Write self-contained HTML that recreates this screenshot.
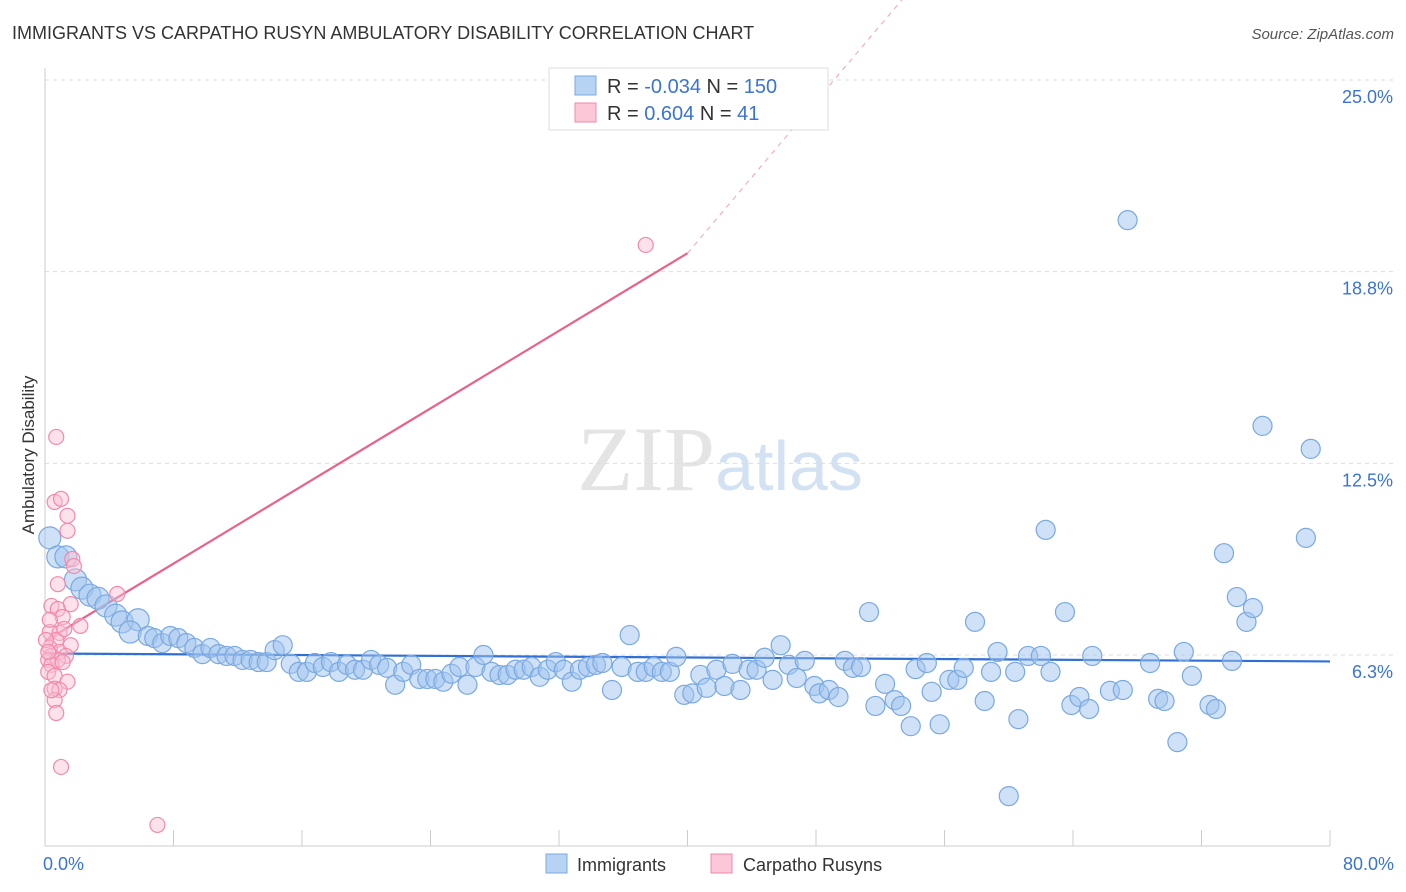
<!DOCTYPE html>
<html><head><meta charset="utf-8"><style>
body{margin:0;background:#fff;font-family:"Liberation Sans",sans-serif;}
svg{display:block}
</style></head><body>
<svg id="chart" width="1406" height="892" xmlns="http://www.w3.org/2000/svg">
<text x="12" y="39" font-size="18" fill="#333">IMMIGRANTS VS CARPATHO RUSYN AMBULATORY DISABILITY CORRELATION CHART</text>
<text x="1394" y="39" font-size="15" fill="#555" text-anchor="end" font-style="italic">Source: ZipAtlas.com</text>
<text x="720" y="490" font-size="92" fill="#e4e4e4" text-anchor="middle" font-family="Liberation Serif,serif">ZIP<tspan fill="#d3e2f3" font-family="Liberation Sans,sans-serif" font-size="70">atlas</tspan></text>
<g id="grid"></g>
<g id="axes"></g>
<g id="trend"></g>
<g id="pts"></g>
<text transform="translate(34,455) rotate(-90)" font-size="17" fill="#333" text-anchor="middle">Ambulatory Disability</text>
<g>
<rect x="549" y="68" width="279" height="62" fill="#fff" stroke="#ddd"/>
<rect x="575" y="76" width="21" height="19" fill="#b7d3f3" stroke="#7aa9e0"/>
<rect x="575" y="103" width="21" height="19" fill="#fcc7d6" stroke="#f08aab"/>
<text x="607" y="93" font-size="20" fill="#333">R = <tspan fill="#3b74d0">-0.034</tspan>   N = <tspan fill="#3b74d0">150</tspan></text>
<text x="607" y="120" font-size="20" fill="#333">R =   <tspan fill="#3b74d0">0.604</tspan>   N =    <tspan fill="#3b74d0">41</tspan></text>
</g>
<g>
<rect x="546" y="854" width="21" height="19" fill="#b7d3f3" stroke="#7aa9e0"/>
<text x="577" y="871" font-size="18" fill="#333">Immigrants</text>
<rect x="711" y="854" width="21" height="19" fill="#fcc7d6" stroke="#f08aab"/>
<text x="743" y="871" font-size="18" fill="#333">Carpatho Rusyns</text>
</g>
</svg>
<script>
const yTicks=[6.25,12.5,18.75,25];
const yTickLabels=["6.3%","12.5%","18.8%","25.0%"];
const xTickLabels=["0.0%","80.0%"];
const blueX=[0.3,0.8,1.3,1.9,2.3,2.8,3.3,3.8,4.4,4.8,5.8,5.3,6.4,6.8,7.3,7.8,8.3,8.8,9.3,9.8,10.3,10.8,11.3,11.8,12.3,12.8,13.3,13.8,14.3,14.8,15.3,15.8,16.3,16.8,17.3,17.8,18.3,18.8,19.3,19.8,20.3,20.8,21.3,21.8,22.3,22.8,23.3,23.8,24.3,24.8,25.3,25.8,26.3,26.8,27.3,27.8,28.3,28.8,29.3,29.8,30.3,30.8,31.3,31.8,32.3,32.8,33.3,33.8,34.3,34.7,35.3,35.9,36.4,36.9,37.4,37.9,38.4,38.9,39.3,39.8,40.3,40.8,41.2,41.8,42.3,42.8,43.3,43.8,44.3,44.8,45.3,45.8,46.3,46.8,47.3,47.9,48.2,48.8,49.4,49.8,50.3,50.8,51.3,51.7,52.3,52.9,53.3,53.9,54.2,54.9,55.2,55.7,56.3,56.8,57.2,57.9,58.5,58.9,59.3,60.0,60.4,60.6,61.2,62.0,62.3,62.6,63.5,63.9,64.4,65.0,65.2,66.3,67.1,67.4,68.8,69.3,69.7,70.5,70.9,71.4,72.5,72.9,73.4,73.9,74.2,74.8,75.2,75.8,78.5,78.8];
const blueY=[10.07,9.45,9.45,8.7,8.43,8.2,8.1,7.85,7.55,7.33,7.4,7.0,6.87,6.8,6.64,6.87,6.8,6.64,6.48,6.28,6.48,6.28,6.22,6.22,6.09,6.09,6.02,6.02,6.41,6.57,5.96,5.7,5.7,5.99,5.86,6.02,5.7,5.93,5.77,5.77,6.09,5.93,5.83,5.28,5.7,5.93,5.47,5.47,5.47,5.38,5.64,5.86,5.28,5.86,6.25,5.7,5.6,5.6,5.77,5.77,5.86,5.54,5.77,6.02,5.77,5.38,5.77,5.86,5.93,5.99,5.11,5.86,6.9,5.7,5.7,5.86,5.7,5.7,6.19,4.95,5.0,5.6,5.18,5.77,5.24,5.96,5.11,5.77,5.77,6.16,5.44,6.57,5.93,5.5,6.06,5.24,5.0,5.11,4.88,6.06,5.83,5.86,7.65,4.59,5.31,4.78,4.59,3.93,5.79,5.99,5.05,3.99,5.44,5.44,5.83,7.33,4.75,5.7,6.35,1.65,5.7,4.16,6.22,6.22,10.33,5.7,7.65,4.62,4.88,4.49,6.22,5.08,5.11,20.43,5.99,4.82,4.75,3.41,6.35,5.57,4.62,4.49,9.57,6.06,8.14,7.33,7.78,13.72,10.07,12.97];
const pinkX=[0.7,0.6,1.0,1.4,1.4,1.7,0.8,4.5,1.6,0.4,0.8,1.1,2.2,0.3,0.9,0.7,1.6,0.3,0.9,0.4,1.3,0.2,0.8,0.4,1.1,0.2,0.6,1.4,0.6,0.9,0.6,0.7,1.0,7.0,37.4,0.06,0.3,1.2,1.8,0.4,0.2];
const pinkY=[13.36,11.24,11.34,10.79,10.3,9.38,8.56,8.24,7.91,7.85,7.75,7.49,7.2,7.0,6.97,6.74,6.57,6.48,6.35,6.22,6.22,6.09,6.09,5.93,6.02,5.7,5.57,5.38,5.15,5.11,4.78,4.36,2.6,0.71,19.62,6.74,7.4,7.1,9.15,5.1,6.35];
const blueTrend=[6.3,6.04];
const pinkTrend=[6.7,19.35,30.0];
const pinkTrendX=[0,40,57.2];
const NS="http://www.w3.org/2000/svg";
const X0=45,X1=1330,Y0=846.7,YS=30.67;
function sx(v){return X0+v*(X1-X0)/80;}
function sy(v){return Y0-v*YS;}
function mk(tag,attrs,parent){const e=document.createElementNS(NS,tag);for(const k in attrs)e.setAttribute(k,attrs[k]);parent.appendChild(e);return e;}
const grid=document.getElementById('grid'),axes=document.getElementById('axes'),tr=document.getElementById('trend'),pts=document.getElementById('pts');
yTicks.forEach((t,i)=>{
 const l=mk('line',{x1:X0,x2:1394,y1:sy(t),y2:sy(t),stroke:'#ddd','stroke-dasharray':'4,4'},grid);
 
 
 const tx=mk('text',{x:1393,y:sy(t)+23,'font-size':18,fill:'#3b74d0','text-anchor':'end'},axes);
 tx.textContent=yTickLabels[i];
 
 
});
const ax=mk('line',{x1:X0,x2:X1,y1:846,y2:846,stroke:'#ccc'},axes);


const ay=mk('line',{x1:X0,x2:X0,y1:68,y2:846,stroke:'#ccc'},axes);


for(let i=0;i<=10;i++){
 const t=mk('line',{x1:sx(i*8),x2:sx(i*8),y1:830,y2:846,stroke:'#ccc'},axes);
 
 
}
[[X0-2,'start',0],[1394,'end',1]].forEach(([x,a,i])=>{
 const t=mk('text',{x:x,y:870,'font-size':18,fill:'#3b74d0','text-anchor':a},axes);
 t.textContent=xTickLabels[i];
 
 
});
blueX.forEach((x,i)=>{
 const c=mk('circle',{cx:sx(x),cy:sy(blueY[i]),r:i<12?11:9.5,fill:'rgba(160,196,238,0.5)',stroke:'#7aa9e0','stroke-width':1.2},pts);
 
 
});
pinkX.forEach((x,i)=>{
 const c=mk('circle',{cx:sx(x),cy:sy(pinkY[i]),r:7.5,fill:'rgba(250,190,210,0.45)',stroke:'#f08aab','stroke-width':1.2},pts);
 
 
});
const bt=mk('line',{x1:sx(0),x2:sx(80),y1:sy(blueTrend[0]),y2:sy(blueTrend[1]),stroke:'#2f6fd6','stroke-width':2.2},tr);


const pt=mk('line',{x1:sx(pinkTrendX[0]),x2:sx(pinkTrendX[1]),y1:sy(pinkTrend[0]),y2:sy(pinkTrend[1]),stroke:'#e8628c','stroke-width':2.2},tr);


const pd=mk('line',{x1:sx(pinkTrendX[1]),x2:sx(pinkTrendX[2]),y1:sy(pinkTrend[1]),y2:sy(pinkTrend[2]),stroke:'#f0a0b8','stroke-width':1,'stroke-dasharray':'5,5'},tr);


</script>
</body></html>
